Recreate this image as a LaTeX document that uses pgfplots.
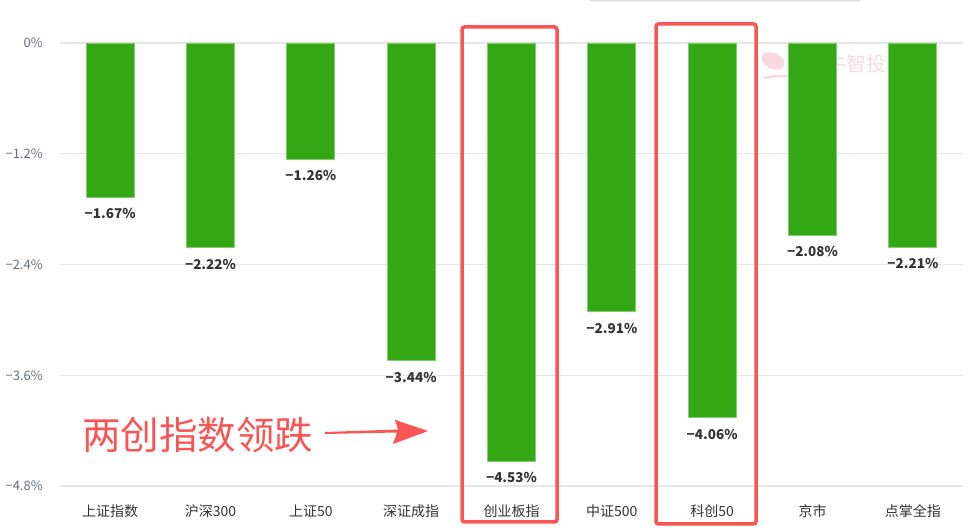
\documentclass[border=0pt]{standalone}
\usepackage{fontspec}
\setmainfont{Noto Sans CJK SC}
\usepackage{pgfplots}
\pgfplotsset{compat=1.18}
\definecolor{bargreen}{RGB}{52,168,20}
\definecolor{redbox}{RGB}{250,85,85}
\definecolor{ticktext}{RGB}{100,110,122}
\definecolor{labtext}{RGB}{51,51,51}
\definecolor{gridc}{RGB}{230,230,230}
\definecolor{wm}{RGB}{248,218,222}
\begin{document}
\begin{tikzpicture}[x=1bp,y=1bp]
\path[use as bounding box] (0,0) rectangle (969,531);
% top partial box
\draw[draw=gray!35, line width=1bp, rounded corners=2bp] (590,545) rectangle (860,530);
% watermark
\fill[wm, rotate around={-25:(773,470)}] (773,470) ellipse (12bp and 8bp);
\draw[wm, line width=2.5bp] (764,453) .. controls (776,456) and (790,455) .. (800,453);
\node[anchor=east, text=wm, inner sep=0pt, font=\fontsize{20bp}{22bp}\selectfont] at (887,467) {金牛智投};
\begin{axis}[
  at={(60bp,45bp)}, anchor=south west,
  scale only axis, width=903bp, height=443bp,
  xmin=-0.5, xmax=8.5, ymin=-4.8, ymax=0,
  ybar, bar width=48bp,
  axis line style={draw=none},
  tick style={draw=none},
  ymajorgrids, grid style={gridc, line width=1.2bp},
  ytick={-4.8,-3.6,-2.4,-1.2,0},
  yticklabels={−4.8\%,−3.6\%,−2.4\%,−1.2\%,0\%},
  yticklabel style={anchor=east, inner sep=0pt, xshift=-17bp, text=ticktext, font=\fontsize{13bp}{15bp}\selectfont},
  xtick={0,1,2,3,4,5,6,7,8},
  xticklabels={上证指数,沪深300,上证50,深证成指,创业板指,中证500,科创50,京市,点掌全指},
  xticklabel style={anchor=center, inner sep=0pt, yshift=-21bp, text=labtext, font=\fontsize{14bp}{16bp}\selectfont},
  point meta=explicit symbolic,
  nodes near coords,
  every node near coord/.append style={anchor=north, inner sep=0pt, yshift=-11bp, text=labtext, font=\fontsize{13.5bp}{15bp}\selectfont\bfseries},
  clip=false,
]
\addplot[fill=bargreen, draw=bargreen!60!white, line width=0.8bp] coordinates {
(0,-1.67) [−1.67\%]
(1,-2.22) [−2.22\%]
(2,-1.26) [−1.26\%]
(3,-3.44) [−3.44\%]
(4,-4.53) [−4.53\%]
(5,-2.91) [−2.91\%]
(6,-4.06) [−4.06\%]
(7,-2.08) [−2.08\%]
(8,-2.21) [−2.21\%]
};
\end{axis}
% red boxes
\draw[redbox, line width=3.5bp, rounded corners=2.5bp] (462,9) rectangle (557,504);
\draw[redbox, line width=3.5bp, rounded corners=2.5bp] (656,7) rectangle (756,507);
% annotation
\node[anchor=west, inner sep=0pt, text=redbox, font=\fontsize{38.5bp}{40bp}\selectfont] at (82,96) {两创指数领跌};
\fill[redbox] (325,99) -- (325,97) -- (397,98.5) -- (393,87) -- (428,100) -- (395,111) -- (398,101.5) -- cycle;
\end{tikzpicture}
\end{document}
